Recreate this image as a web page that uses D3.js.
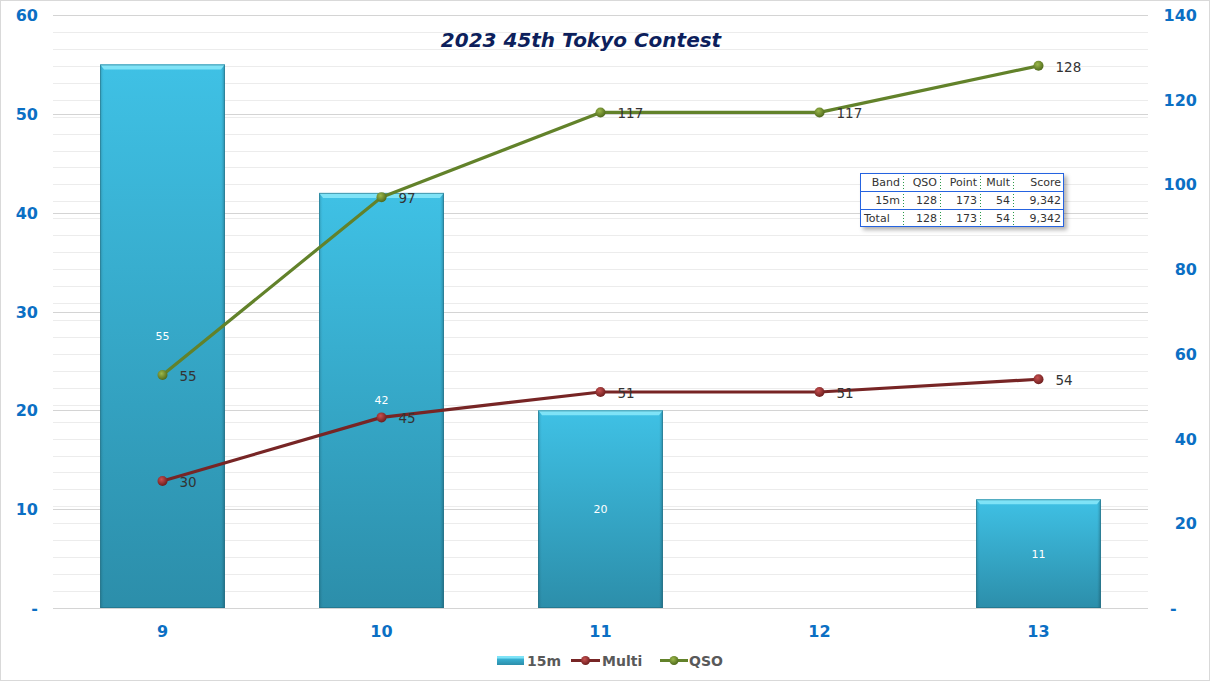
<!DOCTYPE html>
<html><head><meta charset="utf-8">
<script src="https://cdn.jsdelivr.net/npm/d3@7"></script>
<style>
html,body{margin:0;padding:0;background:#fff;}
svg{display:block;}
</style></head>
<body>
<svg id="chart" width="1210" height="681"></svg>
<script>
const title = "2023 45th Tokyo Contest";
const categories = ["9","10","11","12","13"];
const band15m = [55, 42, 20, null, 11];
const multi = [30, 45, 51, 51, 54];
const qso = [55, 97, 117, 117, 128];
const leftTicks = [0,10,20,30,40,50,60];
const rightTicks = [0,20,40,60,80,100,120,140];
const tableHeader = ["Band","QSO","Point","Mult","Score"];
const tableRows = [["15m","128","173","54","9,342"],["Total","128","173","54","9,342"]];
const seriesNames = ["15m","Multi","QSO"];

const W = 1210, H = 681;
const svg = d3.select("#chart");
const m = {l:53, r:1148, t:15, b:608};
const font = "Verdana, 'DejaVu Sans', sans-serif";

const defs = svg.append("defs");
const bg = defs.append("linearGradient").attr("id","barGrad").attr("x1",0).attr("y1",0).attr("x2",0).attr("y2",1);
bg.append("stop").attr("offset","0%").attr("stop-color","#3fc1e5");
bg.append("stop").attr("offset","100%").attr("stop-color","#2c8eaa");
const sg = defs.append("linearGradient").attr("id","barSide").attr("x1",0).attr("y1",0).attr("x2",1).attr("y2",0);
sg.append("stop").attr("offset","0%").attr("stop-color","#000").attr("stop-opacity",0.12);
sg.append("stop").attr("offset","3%").attr("stop-color","#000").attr("stop-opacity",0);
sg.append("stop").attr("offset","97%").attr("stop-color","#000").attr("stop-opacity",0);
sg.append("stop").attr("offset","100%").attr("stop-color","#000").attr("stop-opacity",0.2);
function ball(id, c1, c2){
  const g = defs.append("radialGradient").attr("id",id).attr("cx","40%").attr("cy","35%").attr("r","65%");
  g.append("stop").attr("offset","0%").attr("stop-color",c1);
  g.append("stop").attr("offset","100%").attr("stop-color",c2);
}
ball("ballRed","#c85050","#6e1e1e");
ball("ballGreen","#9cb84a","#4f6a1c");
const sh = defs.append("filter").attr("id","shadow").attr("x","-10%").attr("y","-10%").attr("width","130%").attr("height","140%");
sh.append("feDropShadow").attr("dx",3).attr("dy",3).attr("stdDeviation",2).attr("flood-color","#000").attr("flood-opacity",0.3);

// border
svg.append("rect").attr("x",0.5).attr("y",0.5).attr("width",W-1).attr("height",H-1).attr("fill","#fff").attr("stroke","#d9d9d9");

const x = d3.scaleBand().domain(categories).range([m.l, m.r]).paddingInner(0.43).paddingOuter(0.215);
const xc = d3.scalePoint().domain(categories).range([m.l, m.r]).padding(0.5);
const yL = d3.scaleLinear().domain([0,60]).range([m.b, m.t]);
const yR = d3.scaleLinear().domain([0,140]).range([m.b, m.t]);

// gridlines: minor from right axis (every 4), major from left (every 10)
const grid = svg.append("g");
grid.selectAll("line.minor").data(d3.range(4,141,4)).join("line")
  .attr("x1",m.l).attr("x2",m.r).attr("y1",d=>Math.round(yR(d))+0.5).attr("y2",d=>Math.round(yR(d))+0.5)
  .attr("stroke","#ececec").attr("stroke-width",1);
grid.selectAll("line.major").data(leftTicks).join("line")
  .attr("x1",m.l).attr("x2",m.r).attr("y1",d=>Math.round(yL(d))+0.5).attr("y2",d=>Math.round(yL(d))+0.5)
  .attr("stroke","#d4d4d4").attr("stroke-width",1);

// title
svg.append("text").attr("x",581).attr("y",47).attr("text-anchor","middle")
  .attr("font-family",font).attr("font-size",20).attr("font-weight","bold").attr("font-style","italic")
  .attr("fill","#0d1f5c").text(title);

// bars
const bars = svg.append("g");
const barData = categories.map((c,i)=>({c, v:band15m[i]})).filter(d=>d.v!=null);
barData.forEach(d=>{
  const bx = x(d.c), bw = x.bandwidth(), by = yL(d.v), bh = yL(0)-yL(d.v);
  bars.append("rect").attr("x",bx).attr("y",by).attr("width",bw).attr("height",bh).attr("fill","url(#barGrad)");
  bars.append("rect").attr("x",bx).attr("y",by).attr("width",bw).attr("height",bh).attr("fill","url(#barSide)");
  bars.append("path").attr("d",`M${bx},${by} L${bx+bw},${by} L${bx+bw-4},${by+5} L${bx+4},${by+5} Z`).attr("fill","#7fe3f7");
  bars.append("rect").attr("x",bx+0.5).attr("y",by+0.5).attr("width",bw-1).attr("height",bh-1).attr("fill","none").attr("stroke","#1f6a80").attr("stroke-opacity",0.6);
  bars.append("text").attr("x",bx+bw/2).attr("y",(by+yL(0))/2+4).attr("text-anchor","middle")
    .attr("font-family",font).attr("font-size",11).attr("fill","#fff").text(d.v);
});

// lines
function drawLine(vals, color, grad){
  const pts = vals.map((v,i)=>[xc(categories[i]), yR(v)]);
  svg.append("path").attr("d",d3.line()(pts)).attr("fill","none").attr("stroke",color).attr("stroke-width",3.2).attr("stroke-linejoin","round");
  svg.append("g").selectAll("circle").data(pts).join("circle").attr("cx",d=>d[0]).attr("cy",d=>d[1]).attr("r",5).attr("fill",`url(#${grad})`);
  svg.append("g").selectAll("text").data(vals).join("text")
    .attr("x",(d,i)=>pts[i][0]+17).attr("y",(d,i)=>pts[i][1]+6)
    .attr("font-family",font).attr("font-size",13.5).attr("fill","#333").text(d=>d);
}
drawLine(multi, "#772525", "ballRed");
drawLine(qso, "#62822a", "ballGreen");

// axes labels
const axisColor = "#0b6fc4";
svg.append("g").selectAll("text").data(leftTicks).join("text")
  .attr("x",38).attr("y",d=>yL(d)+6).attr("text-anchor","end")
  .attr("font-family",font).attr("font-size",16).attr("font-weight","bold").attr("fill",axisColor)
  .text(d=>d===0?"-":d);
svg.append("g").selectAll("text").data(rightTicks).join("text")
  .attr("x",d=>d===0?1170:1197).attr("y",d=>yR(d)+6).attr("text-anchor",d=>d===0?"start":"end")
  .attr("font-family",font).attr("font-size",16).attr("font-weight","bold").attr("fill",axisColor)
  .text(d=>d===0?"-":d);
svg.append("g").selectAll("text").data(categories).join("text")
  .attr("x",d=>xc(d)).attr("y",637).attr("text-anchor","middle")
  .attr("font-family",font).attr("font-size",16).attr("font-weight","bold").attr("fill",axisColor).text(d=>d);

// table
const colX = [860, 903, 940, 980, 1013, 1064];
const rowY = [173, 191, 209, 227];
const tg = svg.append("g");
tg.append("rect").attr("x",colX[0]).attr("y",rowY[0]).attr("width",colX[5]-colX[0]).attr("height",rowY[3]-rowY[0])
  .attr("fill","#fff").attr("filter","url(#shadow)");
const allRows = [tableHeader, ...tableRows];
allRows.forEach((row,ri)=>{
  row.forEach((cell,ci)=>{
    const left = (ri===2 && ci===0);
    tg.append("text").attr("x",left?colX[ci]+4:colX[ci+1]-3).attr("y",rowY[ri]+13)
      .attr("text-anchor",left?"start":"end")
      .attr("font-family",font).attr("font-size",11).attr("fill","#333").text(cell);
  });
});
for(let ci=1;ci<5;ci++){
  tg.append("line").attr("x1",colX[ci]+0.5).attr("x2",colX[ci]+0.5).attr("y1",rowY[0]).attr("y2",rowY[3])
    .attr("stroke","#2a9a4a").attr("stroke-dasharray","1,2");
}
[1,2].forEach(ri=>tg.append("line").attr("x1",colX[0]).attr("x2",colX[5]).attr("y1",rowY[ri]+0.5).attr("y2",rowY[ri]+0.5).attr("stroke","#2563e0"));
tg.append("rect").attr("x",colX[0]+0.5).attr("y",rowY[0]+0.5).attr("width",colX[5]-colX[0]-1).attr("height",rowY[3]-rowY[0]-1)
  .attr("fill","none").attr("stroke","#2563e0");

// legend
const lg = svg.append("g");
const lx = [497, 571, 660];
// 15m
lg.append("rect").attr("x",lx[0]).attr("y",656).attr("width",27).attr("height",9).attr("fill","url(#barGrad)");
lg.append("rect").attr("x",lx[0]).attr("y",656).attr("width",27).attr("height",2.5).attr("fill","#7fe3f7");
lg.append("text").attr("x",lx[0]+30).attr("y",666).attr("font-family",font).attr("font-size",14).attr("font-weight","bold").attr("fill","#595959").text(seriesNames[0]);
// Multi
lg.append("line").attr("x1",lx[1]).attr("x2",lx[1]+29).attr("y1",660.5).attr("y2",660.5).attr("stroke","#772525").attr("stroke-width",3);
lg.append("circle").attr("cx",lx[1]+14.5).attr("cy",660.5).attr("r",4.5).attr("fill","url(#ballRed)");
lg.append("text").attr("x",lx[1]+31).attr("y",666).attr("font-family",font).attr("font-size",14).attr("font-weight","bold").attr("fill","#595959").text(seriesNames[1]);
// QSO
lg.append("line").attr("x1",lx[2]).attr("x2",lx[2]+28).attr("y1",660.5).attr("y2",660.5).attr("stroke","#62822a").attr("stroke-width",3);
lg.append("circle").attr("cx",lx[2]+14).attr("cy",660.5).attr("r",4.5).attr("fill","url(#ballGreen)");
lg.append("text").attr("x",lx[2]+29).attr("y",666).attr("font-family",font).attr("font-size",14).attr("font-weight","bold").attr("fill","#595959").text(seriesNames[2]);
</script>
</body></html>
